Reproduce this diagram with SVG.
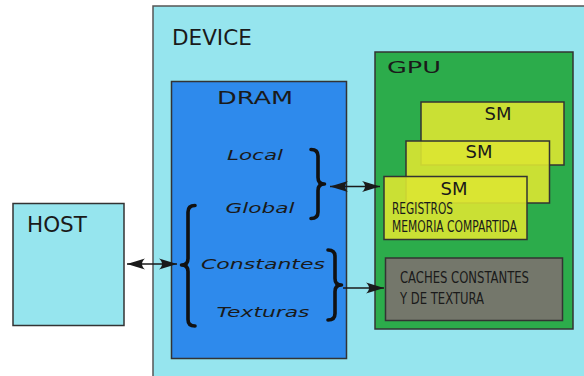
<svg xmlns="http://www.w3.org/2000/svg" width="584" height="376" viewBox="0 0 584 376">
  <style>
    .box { stroke: #333333; stroke-width: 1.5; }
    .title { font-family: "DejaVu Sans", "Liberation Sans", sans-serif; fill: #1a1a1a; }
    .wide { font-family: "DejaVu Sans", "Liberation Sans", sans-serif; fill: #1a1a1a; }
    .mem { font-family: "DejaVu Sans", "Liberation Sans", sans-serif; font-style: italic; font-size: 14.5px; fill: #1a1a1a; }
    .cond { font-family: "DejaVu Sans Condensed", "DejaVu Sans", sans-serif; font-size: 15px; fill: #1a1a1a; }
    .sm { fill: #dce532; fill-opacity: 0.9; }
    .link { stroke: #1a1a1a; stroke-width: 1.3; fill: none; }
    .brace { stroke: #111111; stroke-width: 3.6; fill: none; stroke-linecap: round; stroke-linejoin: round; }
  </style>
  <defs>
    <marker id="head" markerUnits="userSpaceOnUse" viewBox="0 -7 21 14" refX="20" refY="0" markerWidth="21" markerHeight="14" orient="auto-start-reverse">
      <path d="M20,0 L2,-5.5 C6,-2 6,2 2,5.5 Z" fill="#1a1a1a"/>
    </marker>
  </defs>

  <rect width="584" height="376" fill="#ffffff"/>

  <g id="device">
    <rect x="153" y="6" width="440" height="380" fill="#96e5ee" stroke="#555555" stroke-width="1.5"/>
    <text class="title" x="172" y="45" font-size="21.5">DEVICE</text>
  </g>

  <g id="host">
    <rect class="box" x="13" y="203.5" width="111" height="122" fill="#96e5ee" stroke="#555555"/>
    <text class="title" x="27" y="232" font-size="21.5">HOST</text>
  </g>

  <g id="dram">
    <rect class="box" x="171.5" y="81.5" width="175" height="277" fill="#2e8aec"/>
    <text class="wide" x="217" y="104" font-size="17" textLength="76" lengthAdjust="spacingAndGlyphs">DRAM</text>
    <text class="mem" x="227" y="160" textLength="56" lengthAdjust="spacingAndGlyphs">Local</text>
    <text class="mem" x="225.5" y="212.5" textLength="69" lengthAdjust="spacingAndGlyphs">Global</text>
    <text class="mem" x="201" y="269" textLength="124" lengthAdjust="spacingAndGlyphs">Constantes</text>
    <text class="mem" x="216.5" y="317" textLength="93" lengthAdjust="spacingAndGlyphs">Texturas</text>
  </g>

  <g id="gpu">
    <rect class="box" x="375" y="52" width="198" height="277" fill="#2cac4b"/>
    <text class="wide" x="387" y="73" font-size="16" textLength="54" lengthAdjust="spacingAndGlyphs">GPU</text>
  </g>

  <g id="sm-3">
    <rect class="box sm" x="421" y="102" width="143" height="63"/>
    <text class="title" x="498" y="120" font-size="18" text-anchor="middle">SM</text>
  </g>
  <g id="sm-2">
    <rect class="box sm" x="406" y="141" width="143.5" height="62"/>
    <text class="title" x="479" y="158" font-size="18" text-anchor="middle">SM</text>
  </g>
  <g id="sm-1">
    <rect class="box sm" x="384" y="176.5" width="143" height="63"/>
    <text class="title" x="454" y="195" font-size="18" text-anchor="middle">SM</text>
    <text class="cond" x="392" y="214" textLength="61" lengthAdjust="spacingAndGlyphs">REGISTROS</text>
    <text class="cond" x="392" y="231.5" textLength="125" lengthAdjust="spacingAndGlyphs">MEMORIA COMPARTIDA</text>
  </g>

  <g id="caches">
    <rect class="box" x="385.5" y="258" width="177" height="62.5" fill="#74776b"/>
    <text class="cond" x="400" y="283" textLength="129" lengthAdjust="spacingAndGlyphs">CACHES CONSTANTES</text>
    <text class="cond" x="400" y="303.5" textLength="84" lengthAdjust="spacingAndGlyphs">Y DE TEXTURA</text>
  </g>

  <g id="connectors">
    <!-- grouping braces -->
    <path class="brace" d="M311,149.5 Q318,149.5 318,156 L318,177.5 Q318,184 324.5,184 Q318,184 318,190.5 L318,212 Q318,218.5 311,218.5"/>
    <path class="brace" d="M195,205.5 Q188,205.5 188,212 L188,258.5 Q188,265 181.5,265 Q188,265 188,271.5 L188,319.5 Q188,326 195,326"/>
    <path class="brace" d="M328,250 Q335,250 335,256.5 L335,278.5 Q335,285 341.5,285 Q335,285 335,291.5 L335,313.5 Q335,320 328,320"/>
    <!-- data paths -->
    <line class="link" x1="127" y1="264" x2="177" y2="264" marker-start="url(#head)" marker-end="url(#head)"/>
    <line class="link" x1="330" y1="186.5" x2="380" y2="186.5" marker-start="url(#head)" marker-end="url(#head)"/>
    <line class="link" x1="343" y1="288" x2="384" y2="288" marker-end="url(#head)"/>
  </g>
</svg>
